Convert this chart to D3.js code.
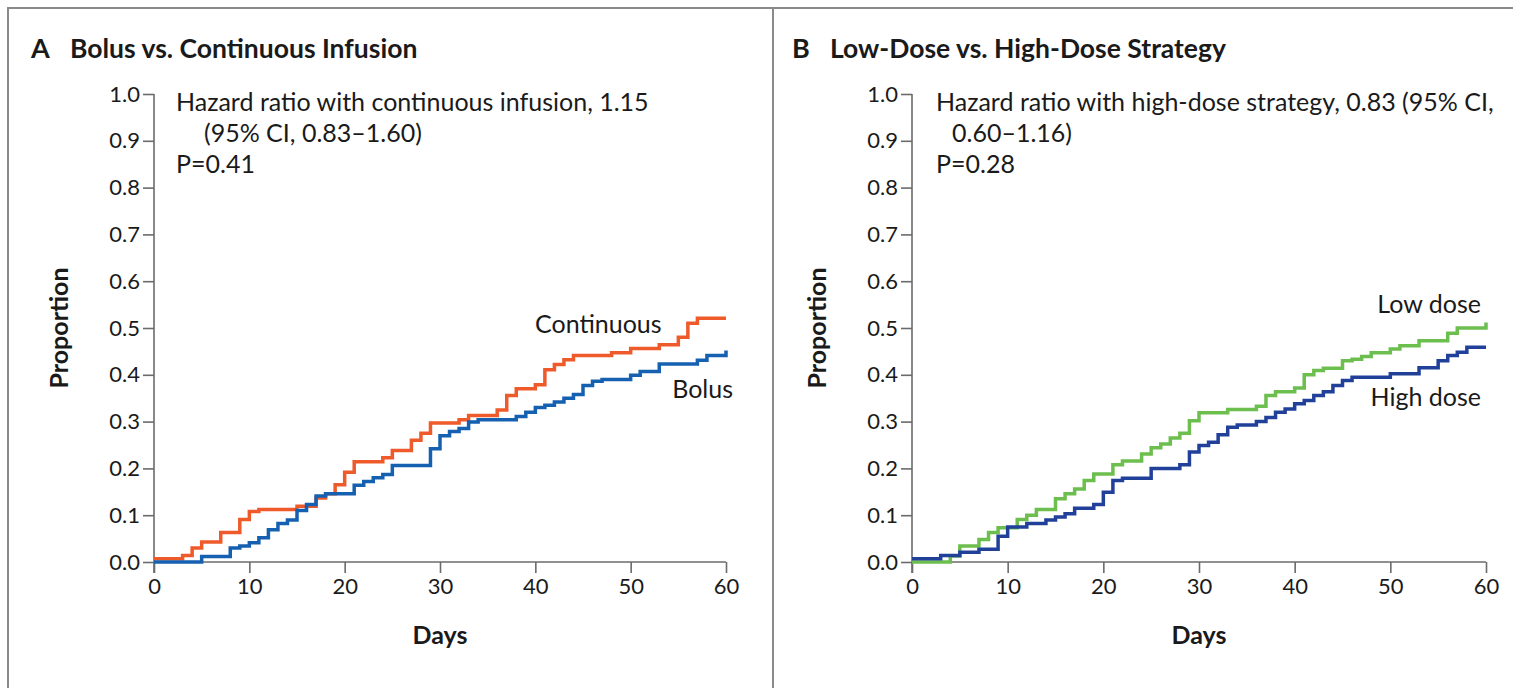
<!DOCTYPE html>
<html><head><meta charset="utf-8">
<script src="https://cdn.jsdelivr.net/npm/d3@7"></script>
<style>
html,body{margin:0;padding:0;background:#fff;}
svg{display:block;}
text{font-family:Lato,"Open Sans",sans-serif;fill:#1a1a1a;}
</style></head>
<body>
<svg id="c" width="1513" height="688"></svg>
<script>
// ---------- data ----------
const yTicks = [0,0.1,0.2,0.3,0.4,0.5,0.6,0.7,0.8,0.9,1.0];
const xTicks = [0,10,20,30,40,50,60];

const contDays = [0,3,4,5,7,9,10,11,15,17,18,19,20,21,24,25,27,28,29,32,33,36,37,38,40,41,42,43,44,48,50,53,55,56,57,60];
const contVals = [0.007,0.014,0.03,0.043,0.063,0.091,0.108,0.112,0.119,0.137,0.146,0.165,0.192,0.214,0.223,0.238,0.26,0.275,0.297,0.304,0.313,0.325,0.356,0.37,0.379,0.411,0.422,0.432,0.441,0.447,0.456,0.464,0.48,0.51,0.521,0.521];

const bolusDays = [0,5,8,9,10,11,12,13,14,15,16,17,18,21,22,23,24,25,29,30,31,32,33,34,38,39,40,41,42,43,44,45,46,47,50,51,53,57,58,60];
const bolusVals = [0,0.012,0.03,0.034,0.041,0.052,0.069,0.082,0.09,0.11,0.123,0.141,0.146,0.164,0.172,0.18,0.187,0.206,0.242,0.27,0.279,0.285,0.299,0.304,0.311,0.32,0.33,0.335,0.342,0.35,0.358,0.377,0.386,0.39,0.399,0.407,0.423,0.431,0.441,0.452];

const lowDays = [0,4,5,7,8,9,11,12,13,15,16,17,18,19,21,22,24,25,26,27,28,29,30,33,36,37,38,40,41,42,43,45,46,47,48,50,51,53,56,57,60];
const lowVals = [0,0.013,0.034,0.048,0.063,0.073,0.091,0.1,0.112,0.135,0.146,0.156,0.174,0.188,0.208,0.216,0.231,0.244,0.252,0.265,0.275,0.302,0.319,0.326,0.333,0.356,0.364,0.372,0.4,0.409,0.414,0.43,0.433,0.439,0.447,0.455,0.462,0.473,0.489,0.5,0.512];

const highDays = [0,3,5,7,9,10,12,14,15,16,17,19,20,21,22,25,28,29,30,31,32,33,34,36,37,38,39,40,41,42,43,44,45,46,50,53,55,56,57,58,60];
const highVals = [0.007,0.014,0.021,0.027,0.055,0.075,0.082,0.09,0.096,0.103,0.115,0.123,0.149,0.174,0.179,0.2,0.208,0.235,0.249,0.256,0.272,0.288,0.293,0.3,0.309,0.32,0.327,0.338,0.345,0.356,0.364,0.377,0.388,0.395,0.402,0.415,0.43,0.441,0.448,0.459,0.459];

const panels = [
  {letter:"A", title:"Bolus vs. Continuous Infusion",
   x0:154, x1:726, letterX:31, titleX:70,
   note:["Hazard ratio with continuous infusion, 1.15","(95% CI, 0.83\u20131.60)","P=0.41"], noteX:176, indentX:204,
   series:[
     {days:contDays, vals:contVals, color:"#ef5a2b", label:"Continuous", lx:535, ly:333, anchor:"start"},
     {days:bolusDays, vals:bolusVals, color:"#1560b0", label:"Bolus", lx:733, ly:398, anchor:"end"}
   ]},
  {letter:"B", title:"Low-Dose vs. High-Dose Strategy",
   x0:912, x1:1486, letterX:792, titleX:830,
   note:["Hazard ratio with high-dose strategy, 0.83 (95% CI,","0.60\u20131.16)","P=0.28"], noteX:936, indentX:952,
   series:[
     {days:lowDays, vals:lowVals, color:"#6cbf4e", label:"Low dose", lx:1481, ly:313, anchor:"end"},
     {days:highDays, vals:highVals, color:"#21409a", label:"High dose", lx:1481, ly:406, anchor:"end"}
   ]}
];

// ---------- drawing ----------
const svg = d3.select("#c");
const frame = "#8a8a8a";
svg.append("line").attr("x1",7).attr("x2",1513).attr("y1",8).attr("y2",8).attr("stroke",frame).attr("stroke-width",2);
svg.append("line").attr("x1",8).attr("x2",8).attr("y1",7).attr("y2",688).attr("stroke",frame).attr("stroke-width",2);
svg.append("line").attr("x1",773).attr("x2",773).attr("y1",7).attr("y2",688).attr("stroke",frame).attr("stroke-width",2);

const yTop = 94, yBot = 562;

panels.forEach(p => {
  const g = svg.append("g");
  const x = d3.scaleLinear().domain([0,60]).range([p.x0,p.x1]);
  const y = d3.scaleLinear().domain([0,1]).range([yBot,yTop]);

  g.append("text").attr("x",p.letterX).attr("y",58).attr("font-size",27).attr("font-weight",700).text(p.letter);
  g.append("text").attr("x",p.titleX).attr("y",58).attr("font-size",26.5).attr("font-weight",700).text(p.title);

  const ya = g.append("g").attr("transform",`translate(${p.x0},0)`)
    .call(d3.axisLeft(y).tickValues(yTicks).tickFormat(d3.format(".1f")).tickSize(11).tickPadding(3));
  const xa = g.append("g").attr("transform",`translate(0,${yBot})`)
    .call(d3.axisBottom(x).tickValues(xTicks).tickSize(11).tickPadding(5));
  [ya,xa].forEach(a=>{
    a.select(".domain").remove();
    a.selectAll(".tick line").attr("stroke","#6b6b6b").attr("stroke-width",1.6);
    a.selectAll(".tick text").attr("font-family","Lato, sans-serif").attr("font-size",22).attr("fill","#1a1a1a");
  });
  g.append("line").attr("x1",p.x0).attr("x2",p.x0).attr("y1",yTop).attr("y2",yBot+11).attr("stroke","#6b6b6b").attr("stroke-width",1.6);
  g.append("line").attr("x1",p.x0).attr("x2",p.x1).attr("y1",yBot).attr("y2",yBot).attr("stroke","#6b6b6b").attr("stroke-width",1.6);

  g.append("text").attr("x",(p.x0+p.x1)/2).attr("y",644).attr("text-anchor","middle")
    .attr("font-size",25).attr("font-weight",700).text("Days");
  const ymid = (yTop+yBot)/2;
  g.append("text").attr("transform",`translate(${p.x0-86},${ymid}) rotate(-90)`).attr("text-anchor","middle")
    .attr("font-size",25).attr("font-weight",700).text("Proportion");

  const nx = [p.noteX,p.indentX,p.noteX];
  p.note.forEach((t,i)=>{
    g.append("text").attr("x",nx[i]).attr("y",111+i*31).attr("font-size",25).text(t);
  });

  const line = d3.line().x(d=>x(d[0])).y(d=>y(d[1])).curve(d3.curveStepAfter);
  p.series.forEach(s=>{
    const pts = s.days.map((d,i)=>[d,s.vals[i]]);
    g.append("path").datum(pts).attr("d",line).attr("fill","none")
      .attr("stroke",s.color).attr("stroke-width",3.5).attr("stroke-linejoin","miter");
    g.append("text").attr("x",s.lx).attr("y",s.ly).attr("text-anchor",s.anchor).attr("font-size",25).text(s.label);
  });
});
</script>
</body></html>
